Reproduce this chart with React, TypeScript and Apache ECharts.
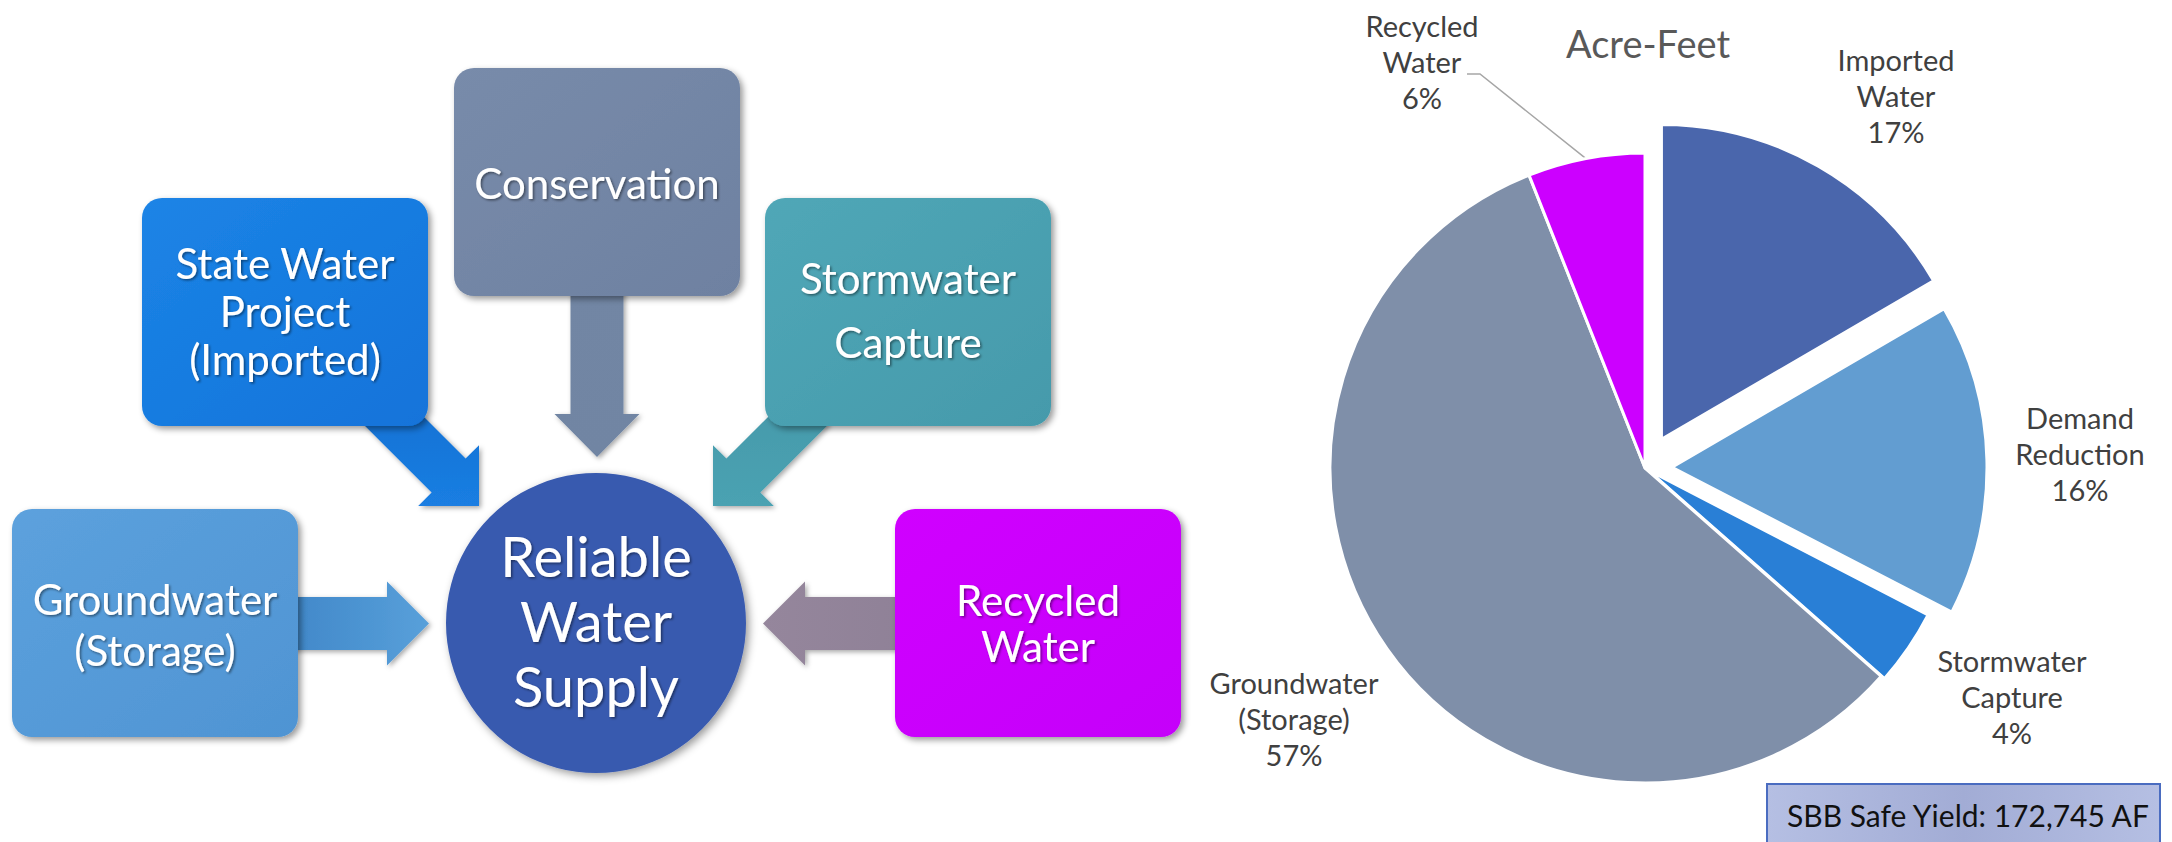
import React, { useEffect, useRef } from 'react';
import * as echarts from 'echarts';

// ---------- Pie data ----------
const categories = ['Imported\nWater', 'Demand\nReduction', 'Stormwater\nCapture', 'Groundwater\n(Storage)', 'Recycled\nWater'];
const shares = [16.6, 16.0, 3.9, 57.5, 6.0];
const sliceColors = ['#4A66AC', '#629DD1', '#297FD6', '#7F8FA9', '#CC00FF'];
const explodeOffsets = [33, 27, 4, 0, 0];
const labelAnchors = [[1896, 95], [2080, 453], [2012, 696], [1294, 718], [1422, 61]];

const chartTitle = 'Acre-Feet';
const safeYieldText = 'SBB Safe Yield: 172,745 AF';

// ---------- Diagram texts ----------
const diagramSources = ['Conservation', 'State Water\nProject\n(Imported)', 'Stormwater\nCapture', 'Groundwater\n(Storage)', 'Recycled\nWater'];
const diagramCenterText = 'Reliable\nWater\nSupply';

const FONT = 'Lato, "Open Sans", sans-serif';
const PIE_C = [1645, 468];
const PIE_R = 315;

const boxes = [
  { x: 454, y: 68, c1: '#788BAA', c2: '#6E81A1', lh: 48, ty: 183 },
  { x: 142, y: 198, c1: '#1C84E6', c2: '#1273DA', lh: 48, ty: 311 },
  { x: 765, y: 198, c1: '#50A7B7', c2: '#459AAB', lh: 64, ty: 310 },
  { x: 12, y: 509, c1: '#5CA1DD', c2: '#4F94D3', lh: 51, ty: 624 },
  { x: 895, y: 509, c1: '#D000FF', c2: '#C500FA', lh: 46, ty: 623 },
];
const BOX_W = 286;
const BOX_H = 228;

const arrows = [
  { tail: [597, 280], tip: [597, 457], c1: '#7286A4', c2: '#7185A3', sh: 26.5, hh: 42.5, hl: 43 },
  { tail: [380, 407], tip: [479, 506], c1: '#1470D2', c2: '#1A7EE2', sh: 24, hh: 43, hl: 43 },
  { tail: [812, 407], tip: [713, 506], c1: '#4499AA', c2: '#4BA2B2', sh: 24, hh: 43, hl: 43 },
  { tail: [280, 623.5], tip: [429, 623.5], c1: '#3F86C8', c2: '#58A0DA', sh: 26.5, hh: 42, hl: 42 },
  { tail: [910, 623.5], tip: [763, 623.5], c1: '#8F8197', c2: '#95869C', sh: 26.5, hh: 42, hl: 42 },
];

function arrowPts(tail: number[], tip: number[], sh: number, hh: number, hl: number) {
  const dx = tip[0] - tail[0];
  const dy = tip[1] - tail[1];
  const L = Math.hypot(dx, dy);
  const ux = dx / L, uy = dy / L;
  const nx = -uy, ny = ux;
  const bx = tip[0] - ux * hl, by = tip[1] - uy * hl;
  return [
    [tail[0] + nx * sh, tail[1] + ny * sh],
    [bx + nx * sh, by + ny * sh],
    [bx + nx * hh, by + ny * hh],
    [tip[0], tip[1]],
    [bx - nx * hh, by - ny * hh],
    [bx - nx * sh, by - ny * sh],
    [tail[0] - nx * sh, tail[1] - ny * sh],
  ];
}

function buildOption() {
  const total = shares.reduce((a, b) => a + b, 0);
  const mids: number[] = [];
  let acc = 0;
  shares.forEach((v) => {
    mids.push(((acc + v / 2) / total) * Math.PI * 2);
    acc += v;
  });

  const series = shares.map((_, i) => {
    const off = explodeOffsets[i];
    const cx = PIE_C[0] + off * Math.sin(mids[i]);
    const cy = PIE_C[1] - off * Math.cos(mids[i]);
    return {
      type: 'pie',
      silent: true,
      center: [cx, cy],
      radius: PIE_R,
      startAngle: 90,
      clockwise: true,
      avoidLabelOverlap: false,
      percentPrecision: 0,
      label: {
        position: 'outside',
        formatter: '{b}\n{d}%',
        fontFamily: FONT,
        fontSize: 29,
        lineHeight: 36,
        color: '#404040',
      },
      labelLine: { show: false, lineStyle: { color: '#A6A6A6', width: 1.5 } },
      labelLayout: (p: any) => {
        const j = p.dataIndex;
        const res: any = { x: labelAnchors[j][0], y: labelAnchors[j][1], align: 'center', verticalAlign: 'middle' };
        if (j === 4) {
          const ex = PIE_C[0] + PIE_R * Math.sin(mids[4]);
          const ey = PIE_C[1] - PIE_R * Math.cos(mids[4]);
          res.labelLinePoints = [[ex, ey], [1480, 74], [1467, 74]];
        }
        return res;
      },
      data: shares.map((v, j) => ({
        name: categories[j],
        value: v,
        itemStyle: j === i
          ? { color: sliceColors[j], borderColor: '#ffffff', borderWidth: 3 }
          : { color: 'rgba(0,0,0,0)', borderWidth: 0 },
        label: { show: j === i },
        labelLine: { show: j === i && j === 4 },
      })),
    };
  });

  const elements: any[] = [];
  arrows.forEach((a) => {
    const horizontal = a.tail[1] === a.tip[1];
    const fwd = a.tip[0] >= a.tail[0];
    elements.push({
      type: 'polygon',
      z: 1,
      shape: { points: arrowPts(a.tail, a.tip, a.sh, a.hh, a.hl) },
      style: {
        fill: new echarts.graphic.LinearGradient(
          horizontal ? (fwd ? 0 : 1) : 0,
          0,
          horizontal ? (fwd ? 1 : 0) : 0,
          horizontal ? 0 : 1,
          [
            { offset: 0, color: a.c1 },
            { offset: 1, color: a.c2 },
          ]
        ),
        shadowBlur: 5,
        shadowOffsetX: 2,
        shadowOffsetY: 2,
        shadowColor: 'rgba(0,0,0,0.35)',
      },
    });
  });
  boxes.forEach((b, i) => {
    elements.push({
      type: 'rect',
      z: 2,
      shape: { x: b.x, y: b.y, width: BOX_W, height: BOX_H, r: 20 },
      style: {
        fill: new echarts.graphic.LinearGradient(0, 0, 1, 1, [
          { offset: 0, color: b.c1 },
          { offset: 1, color: b.c2 },
        ]),
        shadowBlur: 6,
        shadowOffsetX: 3,
        shadowOffsetY: 3,
        shadowColor: 'rgba(0,0,0,0.4)',
      },
    });
    elements.push({
      type: 'text',
      z: 3,
      x: b.x + BOX_W / 2,
      y: b.ty,
      style: {
        text: diagramSources[i],
        fill: '#ffffff',
        fontFamily: FONT,
        fontSize: 42,
        lineHeight: b.lh,
        align: 'center',
        verticalAlign: 'middle',
        textShadowColor: 'rgba(0,0,0,0.45)',
        textShadowBlur: 2,
        textShadowOffsetX: 1.5,
        textShadowOffsetY: 1.5,
      },
    });
  });
  elements.push({
    type: 'circle',
    z: 2,
    shape: { cx: 596, cy: 623, r: 150 },
    style: {
      fill: '#395AAF',
      shadowBlur: 8,
      shadowOffsetX: 3,
      shadowOffsetY: 3,
      shadowColor: 'rgba(0,0,0,0.4)',
    },
  });
  elements.push({
    type: 'text',
    z: 3,
    x: 596,
    y: 620,
    style: {
      text: diagramCenterText,
      fill: '#ffffff',
      fontFamily: FONT,
      fontSize: 56,
      lineHeight: 65,
      align: 'center',
      verticalAlign: 'middle',
      textShadowColor: 'rgba(0,0,0,0.45)',
      textShadowBlur: 2,
      textShadowOffsetX: 1.5,
      textShadowOffsetY: 1.5,
    },
  });
  // Pie title
  elements.push({
    type: 'text',
    z: 3,
    x: 1648,
    y: 43,
    style: {
      text: chartTitle,
      fill: '#595959',
      fontFamily: FONT,
      fontSize: 38,
      align: 'center',
      verticalAlign: 'middle',
    },
  });
  // Safe yield box
  elements.push({
    type: 'rect',
    z: 2,
    shape: { x: 1767, y: 784, width: 393, height: 70 },
    style: {
      fill: new echarts.graphic.LinearGradient(0, 0, 1, 0, [
        { offset: 0, color: '#B5BFE3' },
        { offset: 0.5, color: '#A2ACD5' },
        { offset: 1, color: '#B5BFE3' },
      ]),
      stroke: '#4A6CC0',
      lineWidth: 2,
    },
  });
  elements.push({
    type: 'text',
    z: 3,
    x: 1787,
    y: 815,
    style: {
      text: safeYieldText,
      fill: '#111111',
      fontFamily: FONT,
      fontSize: 30,
      align: 'left',
      verticalAlign: 'middle',
    },
  });

  return {
    animation: false,
    backgroundColor: '#ffffff',
    series,
    graphic: { elements },
  };
}

export default function App() {
  const ref = useRef<HTMLDivElement>(null);
  useEffect(() => {
    const chart = echarts.init(ref.current as HTMLDivElement, undefined, { renderer: 'svg' });
    chart.setOption(buildOption() as any);
    return () => chart.dispose();
  }, []);
  return (
    <div
      ref={ref}
      style={{ position: 'fixed', left: 0, top: 0, width: 2172, height: 842, background: '#ffffff' }}
    />
  );
}
